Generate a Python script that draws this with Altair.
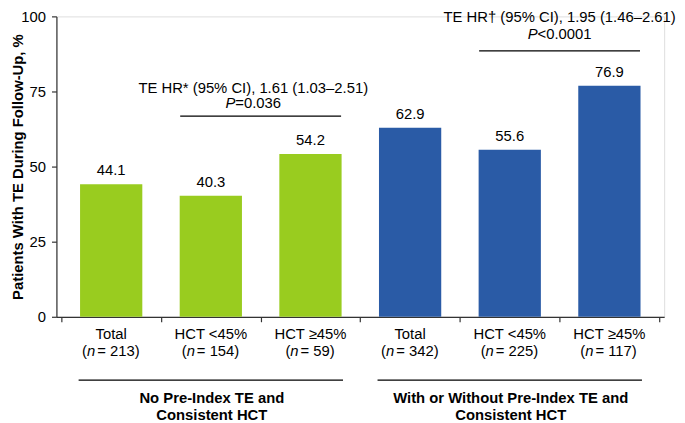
import altair as alt
import pandas as pd

# ---------------- data ----------------
categories = ["Total", "HCT <45%", "HCT ≥45%", "Total", "HCT <45%", "HCT ≥45%"]
n_values = [213, 154, 59, 342, 225, 117]
te_pct = [44.1, 40.3, 54.2, 62.9, 55.6, 76.9]
group_names = ["No Pre-Index TE and Consistent HCT",
               "With or Without Pre-Index TE and Consistent HCT"]
group_of_bar = [0, 0, 0, 1, 1, 1]
group_lines = [["No Pre-Index TE and", "Consistent HCT"],
               ["With or Without Pre-Index TE and", "Consistent HCT"]]
y_ticks = [0, 25, 50, 75, 100]
hr_labels = ["TE HR* (95% CI), 1.61 (1.03–2.51)", "TE HR† (95% CI), 1.95 (1.46–2.61)"]
p_rest = ["=0.036", "<0.0001"]
hr_pairs = [(1, 2), (4, 5)]

# ---------------- styles ----------------
FONT = "Liberation Sans"
FS = 15
GREEN = "#99CC1F"
BLUE = "#2A5BA6"
AX = "#333333"
W, H = 615, 304
STEP = W / len(categories)
BAR_PX = 63
HALF = BAR_PX / 2 / STEP
GROUP_HALF = 136 / STEP
NBSP = "\u00a0"
GAP = 2  # extra space after the italic n

W_EM = {c: 0.556 for c in "0123456789"}
W_EM.update({" ": 0.278, NBSP: 0.278, "=": 0.584, "<": 0.584, "(": 0.333, ")": 0.333,
             ".": 0.278, "n": 0.556, "P": 0.667})


def tw(s, size=FS):
    return sum(W_EM.get(c, 0.556) for c in s) * size


# ---------------- tables ----------------
df = pd.DataFrame({
    "pos": list(range(len(categories))),
    "cat": categories,
    "n": n_values,
    "value": te_pct,
    "group": [group_names[g] for g in group_of_bar],
})
df["label"] = df["value"].map(lambda v: f"{v:.1f}")
df["rest"] = df["n"].map(lambda n: f"{NBSP}={NBSP}{n})")
paren_w, n_w = tw("("), tw("n")
df["x_anchor"] = [p + (1.5 + paren_w + n_w - (paren_w + n_w + GAP + tw(r)) / 2) / STEP
                  for p, r in zip(df["pos"], df["rest"])]

gdf = pd.DataFrame({
    "gx": [df.loc[df["group"] == g, "pos"].mean() for g in group_names],
    "line1": [l[0] for l in group_lines],
    "line2": [l[1] for l in group_lines],
})
gdf["gx1"] = gdf["gx"] - GROUP_HALF
gdf["gx2"] = gdf["gx"] + GROUP_HALF

xs = alt.Scale(domain=[-0.5, len(categories) - 0.5], nice=False, zero=False)
ys = alt.Scale(domain=[0, 100], nice=False)

X_AXIS = alt.Axis(values=[i - 0.5 for i in range(len(categories) + 1)],
                  labels=False, title=None, grid=False, tickSize=5,
                  domainColor=AX, tickColor=AX, domainWidth=1.2, tickWidth=1.2)
Y_AXIS = alt.Axis(values=y_ticks, grid=False, tickSize=5, labelFontSize=FS,
                  labelColor="black", labelFont=FONT, labelPadding=6,
                  domainColor=AX, tickColor=AX, domainWidth=1.2, tickWidth=1.2,
                  title="Patients With TE During Follow-Up, %",
                  titleFont=FONT, titleFontSize=FS, titleFontWeight="bold",
                  titleColor="black", titleX=-39, titleY=H / 2,
                  titleAlign="center", titleBaseline="middle", titleAngle=-90)


def X(field):
    return alt.X(field, type="quantitative", scale=xs, axis=X_AXIS)


bars = alt.Chart(df).mark_bar(size=BAR_PX).encode(
    x=X("pos"),
    y=alt.Y("value:Q", scale=ys, axis=Y_AXIS),
    color=alt.Color("group:N", scale=alt.Scale(domain=group_names, range=[GREEN, BLUE]),
                    legend=None),
)

txt = dict(font=FONT, fontSize=FS, color="black")

values = alt.Chart(df).mark_text(baseline="alphabetic", dy=-9, **txt).encode(
    x=X("pos"),
    y=alt.Y("value:Q", scale=ys, axis=Y_AXIS),
    text="label:N",
)

cat1 = alt.Chart(df).mark_text(baseline="middle", **txt).encode(
    x=X("pos"), y=alt.value(321), text="cat:N")
paren = alt.Chart(df).mark_text(baseline="middle", align="right", dx=-n_w, **txt).encode(
    x=X("x_anchor"), y=alt.value(339), text=alt.value("("))
nital = alt.Chart(df).mark_text(baseline="middle", align="right", fontStyle="italic", **txt).encode(
    x=X("x_anchor"), y=alt.value(339), text=alt.value("n"))
rest = alt.Chart(df).mark_text(baseline="middle", align="left", dx=GAP, **txt).encode(
    x=X("x_anchor"), y=alt.value(339), text="rest:N")

grule = alt.Chart(gdf).mark_rule(color="black", strokeWidth=1.2).encode(
    x=X("gx1"), x2="gx2:Q", y=alt.value(368))
gl1 = alt.Chart(gdf).mark_text(baseline="middle", fontWeight="bold", dx=1, **txt).encode(
    x=X("gx"), y=alt.value(386), text="line1:N")
gl2 = alt.Chart(gdf).mark_text(baseline="middle", fontWeight="bold", dx=1, **txt).encode(
    x=X("gx"), y=alt.value(403), text="line2:N")

layers = [bars, values, cat1, paren, nital, rest, grule, gl1, gl2]

# annotation styles: (bracket y px, text line1 y px, p line y px, text dx)
ann_style = [(101, 73, 88, -7.5), (35, 1, 18, 0)]
for (a, b), lab, pr, (ry, ty1, ty2, tdx) in zip(hr_pairs, hr_labels, p_rest, ann_style):
    adf = pd.DataFrame({"x1": [a - HALF], "x2": [b + HALF], "xc": [(a + b) / 2],
                        "lab": [lab], "pr": [pr]})
    wP, wR = tw("P"), tw(pr)
    pdx = tdx + (wP - wR) / 2
    layers.append(alt.Chart(adf).mark_rule(color="black", strokeWidth=1.2).encode(
        x=X("x1"), x2="x2:Q", y=alt.value(ry)))
    layers.append(alt.Chart(adf).mark_text(baseline="middle", dx=tdx, **txt).encode(
        x=X("xc"), y=alt.value(ty1), text="lab:N"))
    layers.append(alt.Chart(adf).mark_text(baseline="middle", align="right", dx=pdx,
                                           fontStyle="italic", **txt).encode(
        x=X("xc"), y=alt.value(ty2), text=alt.value("P")))
    layers.append(alt.Chart(adf).mark_text(baseline="middle", align="left", dx=pdx, **txt).encode(
        x=X("xc"), y=alt.value(ty2), text="pr:N"))

chart = alt.layer(*layers).properties(
    width=W, height=H,
    autosize=alt.AutoSizeParams(type="none"),
    padding={"left": 49, "top": 6, "right": 13, "bottom": 105},
).configure_view(stroke=None).configure(font=FONT)

chart.save("out.html", embed_options={"renderer": "svg", "actions": False})
